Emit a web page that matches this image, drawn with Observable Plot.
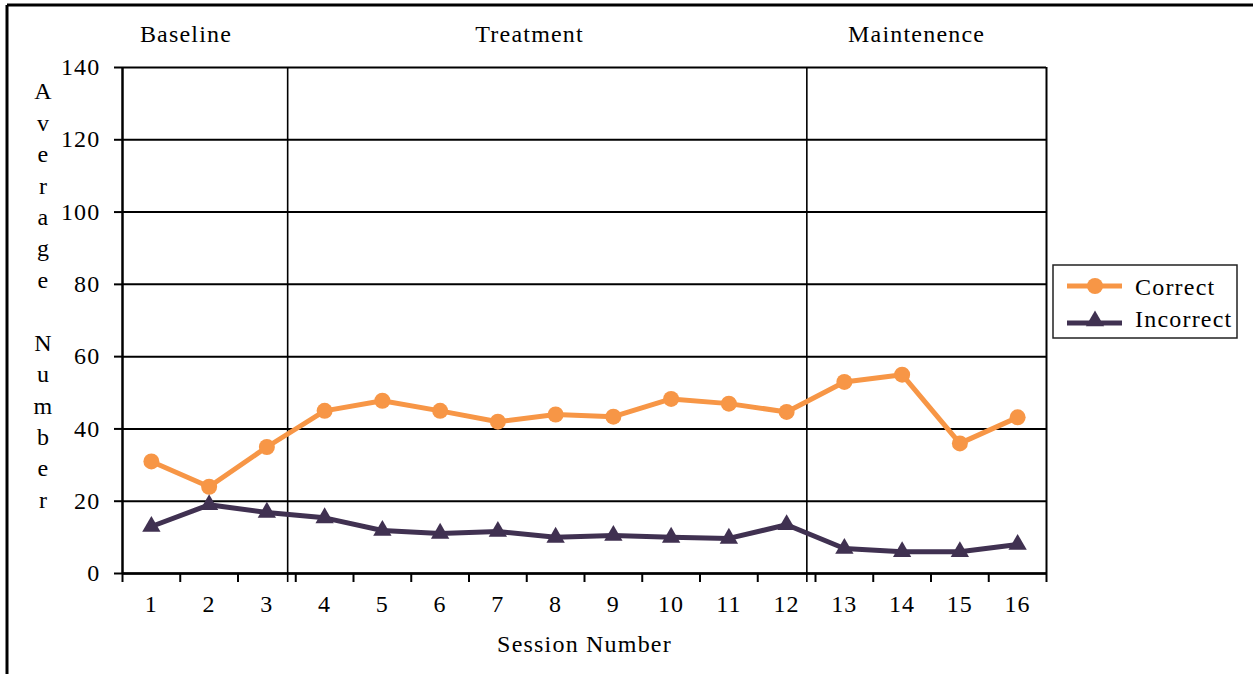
<!DOCTYPE html>
<html>
<head>
<meta charset="utf-8">
<script src="https://cdn.jsdelivr.net/npm/d3@7"></script>
<script src="https://cdn.jsdelivr.net/npm/@observablehq/plot@0.6"></script>
<style>
  html, body { margin: 0; padding: 0; background: #fff; }
  #chart { width: 1253px; height: 674px; }
</style>
</head>
<body>
<div id="chart"></div>
<script>
// Average number of correct / incorrect responses per session
const sessions = [1, 2, 3, 4, 5, 6, 7, 8, 9, 10, 11, 12, 13, 14, 15, 16];
const correct = [31, 24, 35, 45, 47.8, 45, 42, 44, 43.4, 48.3, 47, 44.7, 53, 55, 36, 43.2];
const incorrect = [13, 19, 16.9, 15.4, 11.9, 11.1, 11.6, 10, 10.5, 10, 9.7, 13.5, 6.9, 6, 6, 8];

// Study phases: labels, where they sit, and where each phase changes
const phaseNames = ["Baseline", "Treatment", "Maintenence"];
const phaseLabelAt = [1.6, 7.55, 14.25];
const phaseBreaks = [3.36, 12.35];

const yTicks = [0, 20, 40, 60, 80, 100, 120, 140];
const seriesNames = ["Correct", "Incorrect"];
const seriesColors = ["#F79646", "#403151"];
const xTitle = "Session Number";
const yTitle = "A\nv\ne\nr\na\ng\ne\n\nN\nu\nm\nb\ne\nr";

const rows = sessions.map((s, i) => ({session: s, correct: correct[i], incorrect: incorrect[i]}));
const edges = [0.5, ...sessions.map(s => s + 0.5)];
const phases = phaseNames.map((name, i) => ({name, x: phaseLabelAt[i]}));

const W = 1253, H = 674;

const plot = Plot.plot({
  width: W,
  height: H,
  marginLeft: 122,
  marginRight: 207,
  marginTop: 67,
  marginBottom: 101,
  style: {
    fontFamily: "'Liberation Serif', 'Times New Roman', serif",
    fontSize: "24px",
    letterSpacing: "1.2px",
    color: "#000",
    background: "#fff",
    overflow: "visible"
  },
  x: {type: "linear", domain: [0.5, 16.5], label: null},
  y: {domain: [0, 140], label: null},
  marks: [
    // horizontal gridlines and plot frame
    Plot.ruleY(yTicks, {stroke: "#000", strokeWidth: 2}),
    Plot.ruleX([16.5], {stroke: "#000", strokeWidth: 2}),
    // phase change lines, reaching just under the axis
    Plot.ruleX(phaseBreaks, {stroke: "#000", strokeWidth: 1.6, insetBottom: -9}),
    // y axis
    Plot.ruleX([0.5], {stroke: "#000", strokeWidth: 2.5}),
    Plot.axisY(yTicks, {tickSize: 8, tickPadding: 14, strokeWidth: 2, stroke: "#000"}),
    // x axis: ticks on category edges, labels at category centres
    Plot.ruleY([0], {stroke: "#000", strokeWidth: 2.5}),
    Plot.axisX(edges, {tickSize: 9, tickFormat: () => "", strokeWidth: 2, stroke: "#000"}),
    Plot.axisX(sessions, {tickSize: 0, tickPadding: 21}),
    Plot.text([xTitle], {frameAnchor: "bottom", dy: 71, lineAnchor: "middle"}),
    Plot.text([yTitle], {frameAnchor: "left", dx: -79, dy: -27, lineAnchor: "middle", lineHeight: 1.31, textAnchor: "middle"}),
    // phase labels above the plot
    Plot.text(phases, {x: "x", text: "name", frameAnchor: "top", dy: -33, lineAnchor: "middle"}),
    // series
    Plot.line(rows, {x: "session", y: "correct", stroke: seriesColors[0], strokeWidth: 5}),
    Plot.dot(rows, {x: "session", y: "correct", r: 8, fill: seriesColors[0], stroke: null}),
    Plot.line(rows, {x: "session", y: "incorrect", stroke: seriesColors[1], strokeWidth: 5}),
    Plot.dot(rows, {x: "session", y: "incorrect", symbol: "triangle", r: 6.8, fill: seriesColors[1], stroke: null})
  ]
});

document.getElementById("chart").appendChild(plot);

// Outer frame (top and left edges) and the legend box
const svg = d3.select(plot);
const g = svg.append("g");
g.append("line").attr("x1", 7).attr("x2", W).attr("y1", 5).attr("y2", 5)
  .attr("stroke", "#000").attr("stroke-width", 3);
g.append("line").attr("x1", 7).attr("x2", 7).attr("y1", 5).attr("y2", H)
  .attr("stroke", "#000").attr("stroke-width", 3);

const lg = svg.append("g").attr("transform", "translate(1053,265)");
lg.append("rect").attr("width", 184).attr("height", 73)
  .attr("fill", "#fff").attr("stroke", "#222").attr("stroke-width", 1.5);
const symbols = [d3.symbolCircle, d3.symbolTriangle];
const sizes = [Math.PI * 8 * 8, Math.PI * 6.8 * 6.8];
seriesNames.forEach((name, i) => {
  const y = 21 + i * 37;
  const item = lg.append("g").attr("transform", `translate(0,${y})`);
  item.append("line").attr("x1", 14).attr("x2", 69).attr("y1", 0).attr("y2", 0)
    .attr("stroke", seriesColors[i]).attr("stroke-width", 5);
  item.append("path").attr("d", d3.symbol(symbols[i], sizes[i])())
    .attr("transform", `translate(42,${i ? -2 : 0})`).attr("fill", seriesColors[i]);
  item.append("text").attr("x", 82).attr("y", i ? -4 : 1).attr("dy", "0.32em")
    .attr("text-anchor", "start").text(name);
});
</script>
</body>
</html>
